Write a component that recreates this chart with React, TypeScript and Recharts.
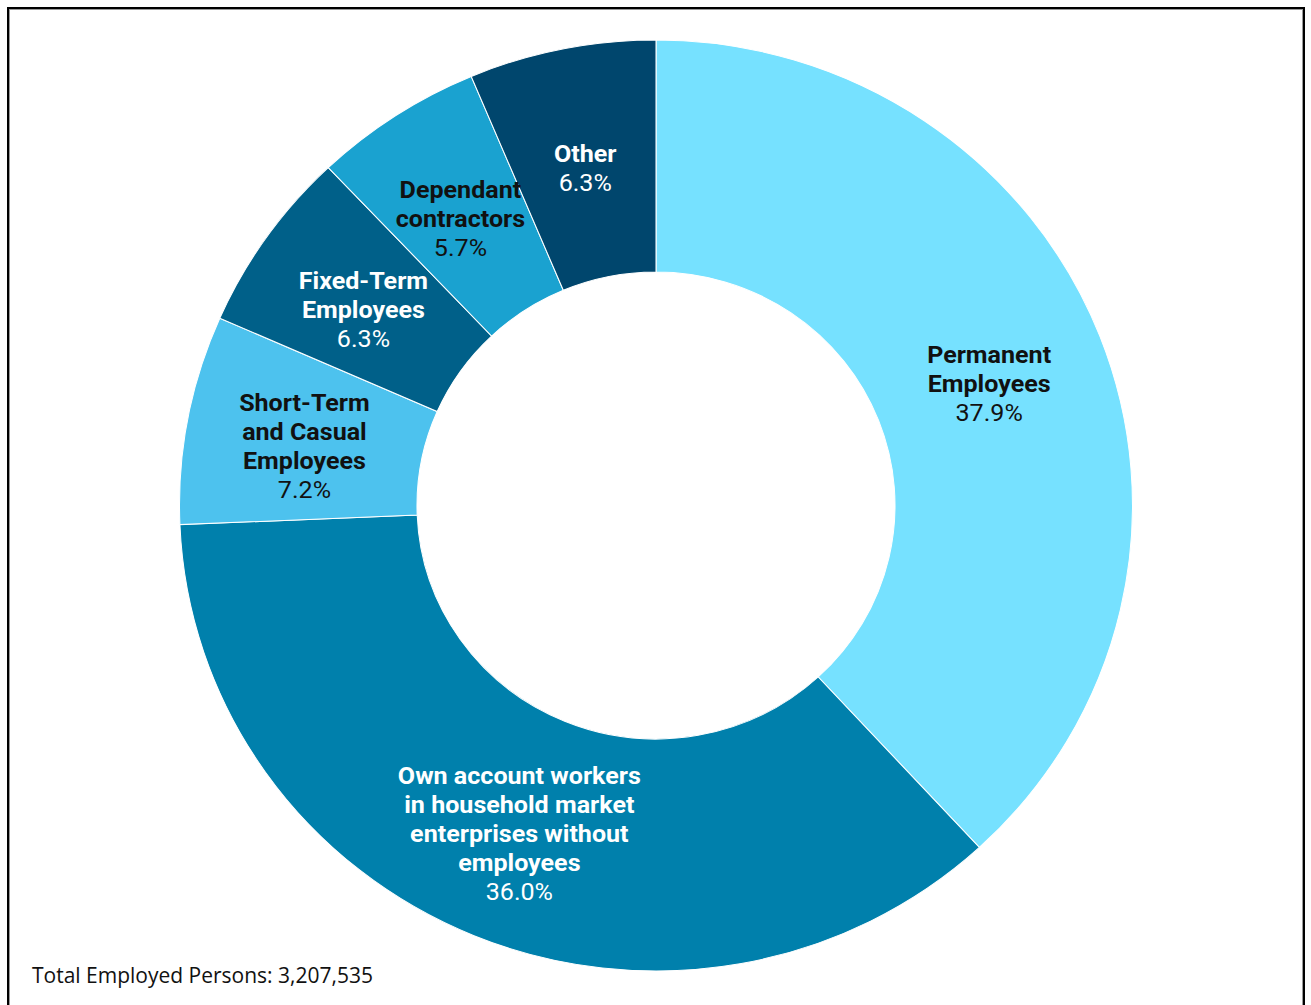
import React from 'react';
import { PieChart, Pie, Cell } from 'recharts';

const categories = [
  'Permanent Employees',
  'Own account workers in household market enterprises without employees',
  'Short-Term and Casual Employees',
  'Fixed-Term Employees',
  'Dependant contractors',
  'Other',
];
const shares = [37.9, 36.0, 7.2, 6.3, 5.7, 6.3];
const labelLines = [
  ['Permanent', 'Employees'],
  ['Own account workers', 'in household market', 'enterprises without', 'employees'],
  ['Short-Term', 'and Casual', 'Employees'],
  ['Fixed-Term', 'Employees'],
  ['Dependant', 'contractors'],
  ['Other'],
];
const sliceColors = ['#76E1FF', '#0080AC', '#4DC2EE', '#006089', '#1AA2D0', '#00466D'];
const textColors = ['#111111', '#FFFFFF', '#111111', '#FFFFFF', '#111111', '#FFFFFF'];
const footer = 'Total Employed Persons: 3,207,535';

const data = categories.map((name, i) => ({ name, value: shares[i] }));

const RAD = Math.PI / 180;
const LINE_H = 29;
const LABEL_DY = 5;

const renderLabel = (props: any) => {
  const { cx, cy, midAngle, innerRadius, outerRadius, index } = props;
  const r = (innerRadius + outerRadius) / 2;
  const x = cx + r * Math.cos(-midAngle * RAD);
  const y = cy + r * Math.sin(-midAngle * RAD) + LABEL_DY;
  const lines = labelLines[index];
  const total = lines.length + 1;
  const startY = y - ((total - 1) * LINE_H) / 2;
  const color = textColors[index];
  return (
    <text
      x={x}
      y={startY}
      textAnchor="middle"
      dominantBaseline="central"
      fill={color}
      style={{ fontFamily: 'Roboto, sans-serif', fontSize: 24.5 }}
    >
      {lines.map((l, k) => (
        <tspan key={k} x={x} y={startY + k * LINE_H} fontWeight={700}>
          {l}
        </tspan>
      ))}
      <tspan x={x} y={startY + lines.length * LINE_H} fontWeight={400}>
        {shares[index].toFixed(1) + '%'}
      </tspan>
    </text>
  );
};

export default function App() {
  return (
    <div style={{ position: 'absolute', left: 0, top: 0, width: 1311, height: 1005, overflow: 'hidden', background: '#fff' }}>
      <div
        style={{
          position: 'absolute',
          left: 7,
          top: 7,
          width: 1298,
          height: 1100,
          boxSizing: 'border-box',
          border: '2px solid #000',
          boxShadow: 'inset 0 0 0 1px #999',
        }}
      />
      <div
        style={{
          position: 'absolute',
          left: 0,
          top: 0,
          width: 1311,
          height: 1005,
          transform: 'scaleX(1.0236)',
          transformOrigin: '656px 0px',
        }}
      >
        <PieChart width={1311} height={1005}>
          <Pie
            data={data}
            dataKey="value"
            nameKey="name"
            cx={651}
            cy={500.5}
            innerRadius={233.5}
            outerRadius={465.5}
            startAngle={90}
            endAngle={-270}
            stroke="#ffffff"
            strokeWidth={1}
            label={renderLabel}
            labelLine={false}
            isAnimationActive={false}
          >
            {data.map((d, i) => (
              <Cell key={d.name} fill={sliceColors[i]} />
            ))}
          </Pie>
        </PieChart>
      </div>
      <svg style={{ position: 'absolute', left: 0, top: 0 }} width={1311} height={1005}>
        <text
          x={32}
          y={983}
          textLength={341}
          lengthAdjust="spacingAndGlyphs"
          fill="#111"
          style={{ fontFamily: '"Open Sans", "Liberation Sans", sans-serif', fontSize: 21 }}
        >
          {footer}
        </text>
      </svg>
    </div>
  );
}
